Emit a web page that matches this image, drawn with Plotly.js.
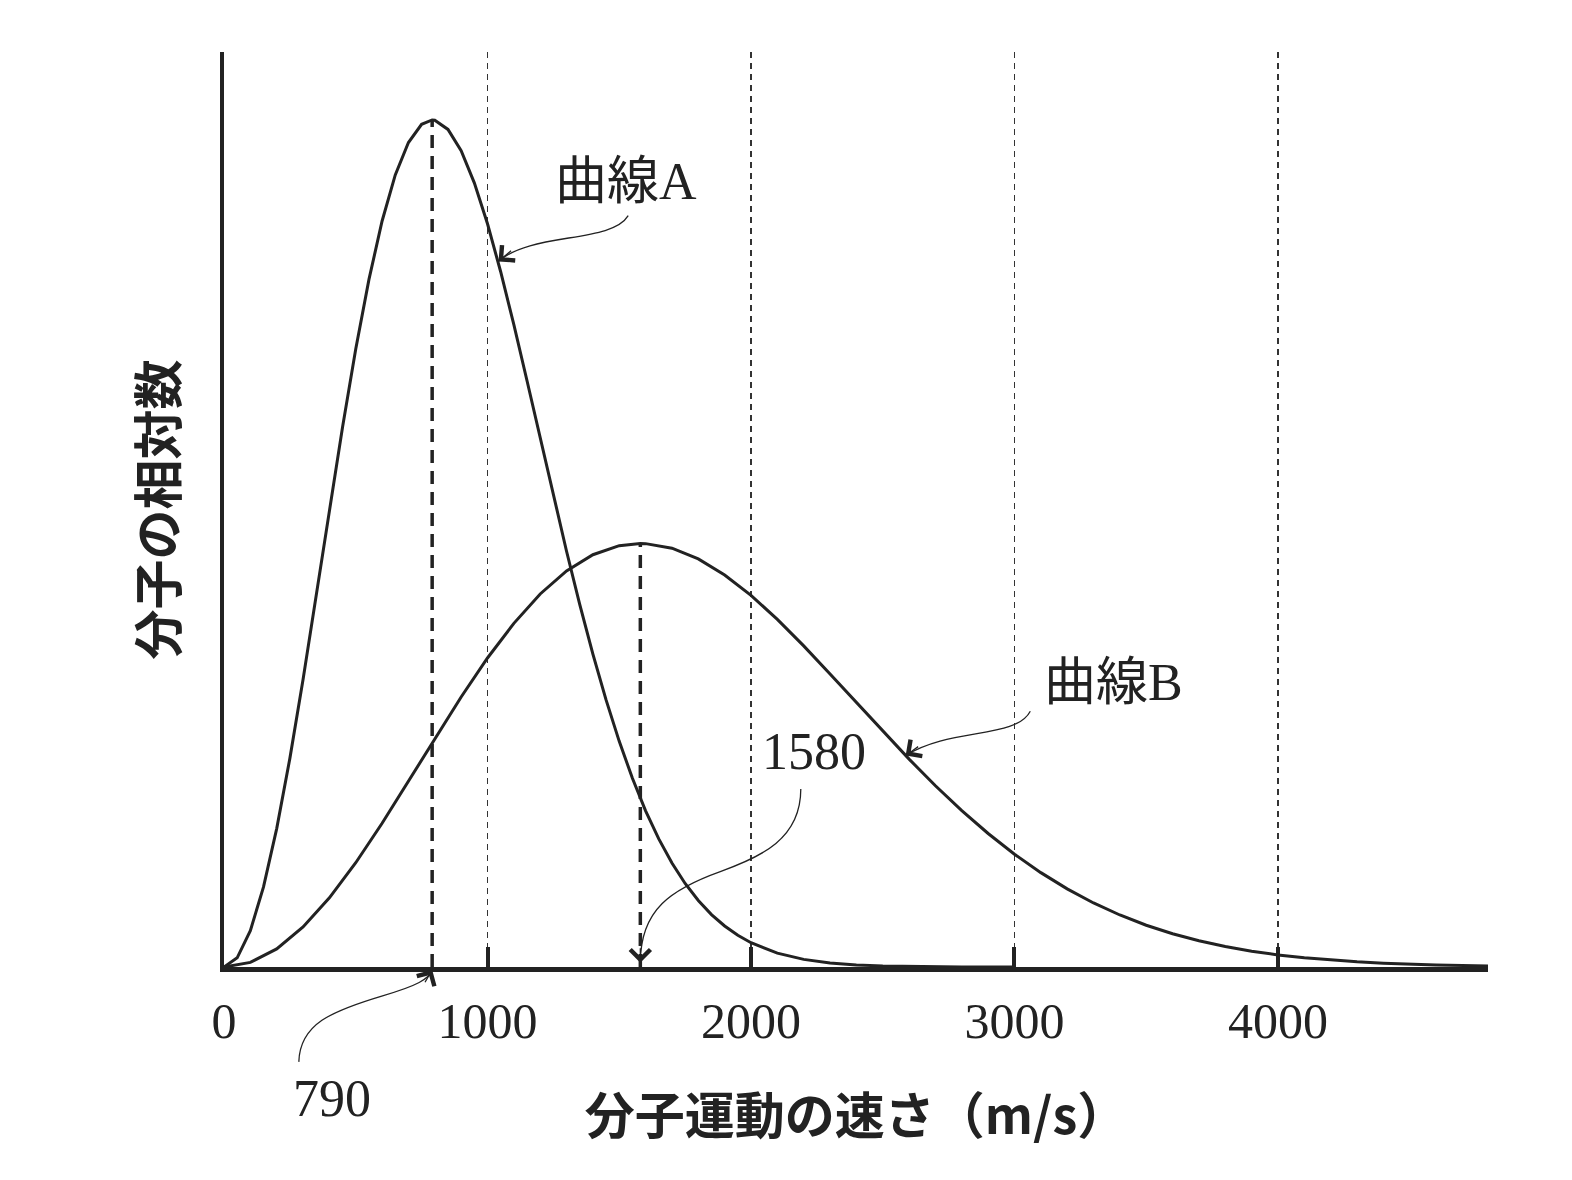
<!DOCTYPE html>
<html>
<head>
<meta charset="utf-8">
<script src="https://cdn.plot.ly/plotly-3.0.1.min.js"></script>
<style>html,body{margin:0;padding:0;background:#fff;}#chart{width:1572px;height:1180px;}</style>
</head>
<body>
<div id="chart"></div>
<script>
// ---- data ----
const speedA = [0, 50, 100, 150, 200, 250, 300, 350, 400, 450, 500, 550, 600, 650, 700, 750, 790, 800, 850, 900, 950, 1000, 1050, 1100, 1150, 1200, 1250, 1300, 1350, 1400, 1450, 1500, 1550, 1600, 1650, 1700, 1750, 1800, 1850, 1900, 1950, 2000, 2100, 2200, 2300, 2400, 2500, 2600, 2800, 3000];
const countA = [0, 0.0108, 0.0429, 0.0945, 0.1634, 0.2463, 0.3394, 0.4385, 0.5393, 0.6376, 0.7295, 0.8115, 0.8807, 0.9351, 0.9733, 0.9948, 1.0, 0.9997, 0.9888, 0.9636, 0.9257, 0.8774, 0.8208, 0.7583, 0.6921, 0.6242, 0.5566, 0.4908, 0.4280, 0.3693, 0.3153, 0.2664, 0.2228, 0.1844, 0.1512, 0.1227, 0.0986, 0.0785, 0.0619, 0.0484, 0.0374, 0.0287, 0.0164, 0.0090, 0.0048, 0.0025, 0.0012, 0.0006, 0.0001, 0];
const speedB = [0, 100, 200, 300, 400, 500, 600, 700, 800, 900, 1000, 1100, 1200, 1300, 1400, 1500, 1580, 1600, 1700, 1800, 1900, 2000, 2100, 2200, 2300, 2400, 2500, 2600, 2700, 2800, 2900, 3000, 3100, 3200, 3300, 3400, 3500, 3600, 3700, 3800, 3900, 4000, 4100, 4200, 4300, 4400, 4600, 4800];
const countB = [0, 0.0054, 0.0214, 0.0473, 0.0817, 0.1231, 0.1697, 0.2192, 0.2697, 0.3188, 0.3648, 0.4057, 0.4404, 0.4676, 0.4867, 0.4974, 0.5, 0.4998, 0.4944, 0.4818, 0.4628, 0.4387, 0.4104, 0.3791, 0.3460, 0.3121, 0.2783, 0.2454, 0.2140, 0.1847, 0.1576, 0.1332, 0.1114, 0.0922, 0.0756, 0.0614, 0.0493, 0.0393, 0.0310, 0.0242, 0.0187, 0.0143, 0.0109, 0.0082, 0.0061, 0.0045, 0.0024, 0.0012];
const tickVals = [0, 1000, 2000, 3000, 4000];
const tickText = ['0', '1000', '2000', '3000', '4000'];
const curveNames = ['曲線A', '曲線B'];
const peakSpeedA = 790;
const peakSpeedB = 1580;
const xTitle = '分子運動の速さ（m/s）';
const yTitle = '分子の相対数';

// ---- styling ----
const INK = '#222';
const serif = '"Liberation Serif", "Noto Sans CJK JP", serif';
const gothic = '"Noto Sans CJK JP", sans-serif';

const peakA = countA[speedA.indexOf(peakSpeedA)];
const peakB = countB[speedB.indexOf(peakSpeedB)];

const traces = [
  {x: speedA, y: countA, name: curveNames[0], mode: 'lines', line: {color: INK, width: 3}},
  {x: speedB, y: countB, name: curveNames[1], mode: 'lines', line: {color: INK, width: 3}},
  {x: [peakSpeedA, peakSpeedA], y: [0, peakA], mode: 'lines', line: {color: INK, width: 3.5, dash: '13px,8px'}},
  {x: [peakSpeedB, peakSpeedB], y: [0, peakB], mode: 'lines', line: {color: INK, width: 3.5, dash: '13px,8px'}}
];

const leader = {type: 'path', line: {color: INK, width: 1.3}, layer: 'above'};
const shapes = [
  Object.assign({}, leader, {xref: 'x', yref: 'y', path: 'M1534,0.887 C1470,0.854 1167,0.868 1042,0.833'}),
  Object.assign({}, leader, {xref: 'x', yref: 'y', path: 'M3060,0.302 C3004,0.269 2758,0.283 2587,0.2496'}),
  Object.assign({}, leader, {xref: 'x', yref: 'y', path: 'M2189,0.210 C2189,0.151 2038,0.130 1886,0.113 C1697,0.092 1580,0.068 1580,0.005'}),
  Object.assign({}, leader, {xref: 'paper', yref: 'paper', path: 'M0.0592,-0.1037 C0.0600,-0.0622 0.0853,-0.0480 0.1248,-0.0317 C0.1524,-0.0207 0.1627,-0.0131 0.1651,-0.0022'})
];

const head = {text: '', showarrow: true, arrowhead: 4, arrowsize: 3, arrowwidth: 1.3, arrowcolor: INK};
const labelFont = {family: serif, size: 52, color: INK};
const lab = {showarrow: false, font: labelFont, xanchor: 'center', yanchor: 'middle'};
const annotations = [
  Object.assign({}, lab, {x: 1526, y: 0.927, xref: 'x', yref: 'y', text: curveNames[0]}),
  Object.assign({}, lab, {x: 3375, y: 0.336, xref: 'x', yref: 'y', text: curveNames[1]}),
  Object.assign({}, lab, {x: 2239, y: 0.2547, xref: 'x', yref: 'y', text: String(peakSpeedB)}),
  Object.assign({}, lab, {x: 409, y: -0.1441, xref: 'x', yref: 'paper', text: String(peakSpeedA)}),
  Object.assign({}, head, {x: 1042, y: 0.833, xref: 'x', yref: 'y', ax: 14, ay: -12}),
  Object.assign({}, head, {x: 2587, y: 0.2496, xref: 'x', yref: 'y', ax: 14, ay: -10}),
  Object.assign({}, head, {x: peakSpeedB, y: 0.005, xref: 'x', yref: 'y', ax: 0, ay: -16}),
  Object.assign({}, head, {x: peakSpeedA, y: -0.003, xref: 'x', yref: 'paper', ax: -8, ay: 14})
];

const layout = {
  width: 1572, height: 1180,
  margin: {l: 224, r: 84, t: 52, b: 213},
  paper_bgcolor: '#fff', plot_bgcolor: '#fff',
  showlegend: false,
  font: {family: serif, color: INK},
  xaxis: {
    range: [0, 4797], fixedrange: true, automargin: false,
    showline: true, linewidth: 5, linecolor: INK, zeroline: false,
    ticks: 'inside', ticklen: 20, tickwidth: 4, tickcolor: INK,
    tickmode: 'array', tickvals: tickVals, ticktext: tickText,
    tickfont: {family: serif, size: 50, color: INK}, ticklabelstandoff: 6,
    showgrid: true, gridcolor: '#333', gridwidth: 1.2, griddash: '6px,5px',
    title: {text: xTitle, font: {family: gothic, size: 50, color: INK, weight: 'bold'}, standoff: 52}
  },
  yaxis: {
    range: [0, 1.0802], fixedrange: true, automargin: false,
    showline: true, linewidth: 4.5, linecolor: INK, zeroline: false,
    showticklabels: false, ticks: '', showgrid: false,
    title: {text: yTitle, font: {family: gothic, size: 50, color: INK, weight: 'bold'}, standoff: 27}
  },
  shapes: shapes,
  annotations: annotations
};

Plotly.newPlot('chart', traces, layout, {displayModeBar: false, staticPlot: true});
</script>
</body>
</html>
